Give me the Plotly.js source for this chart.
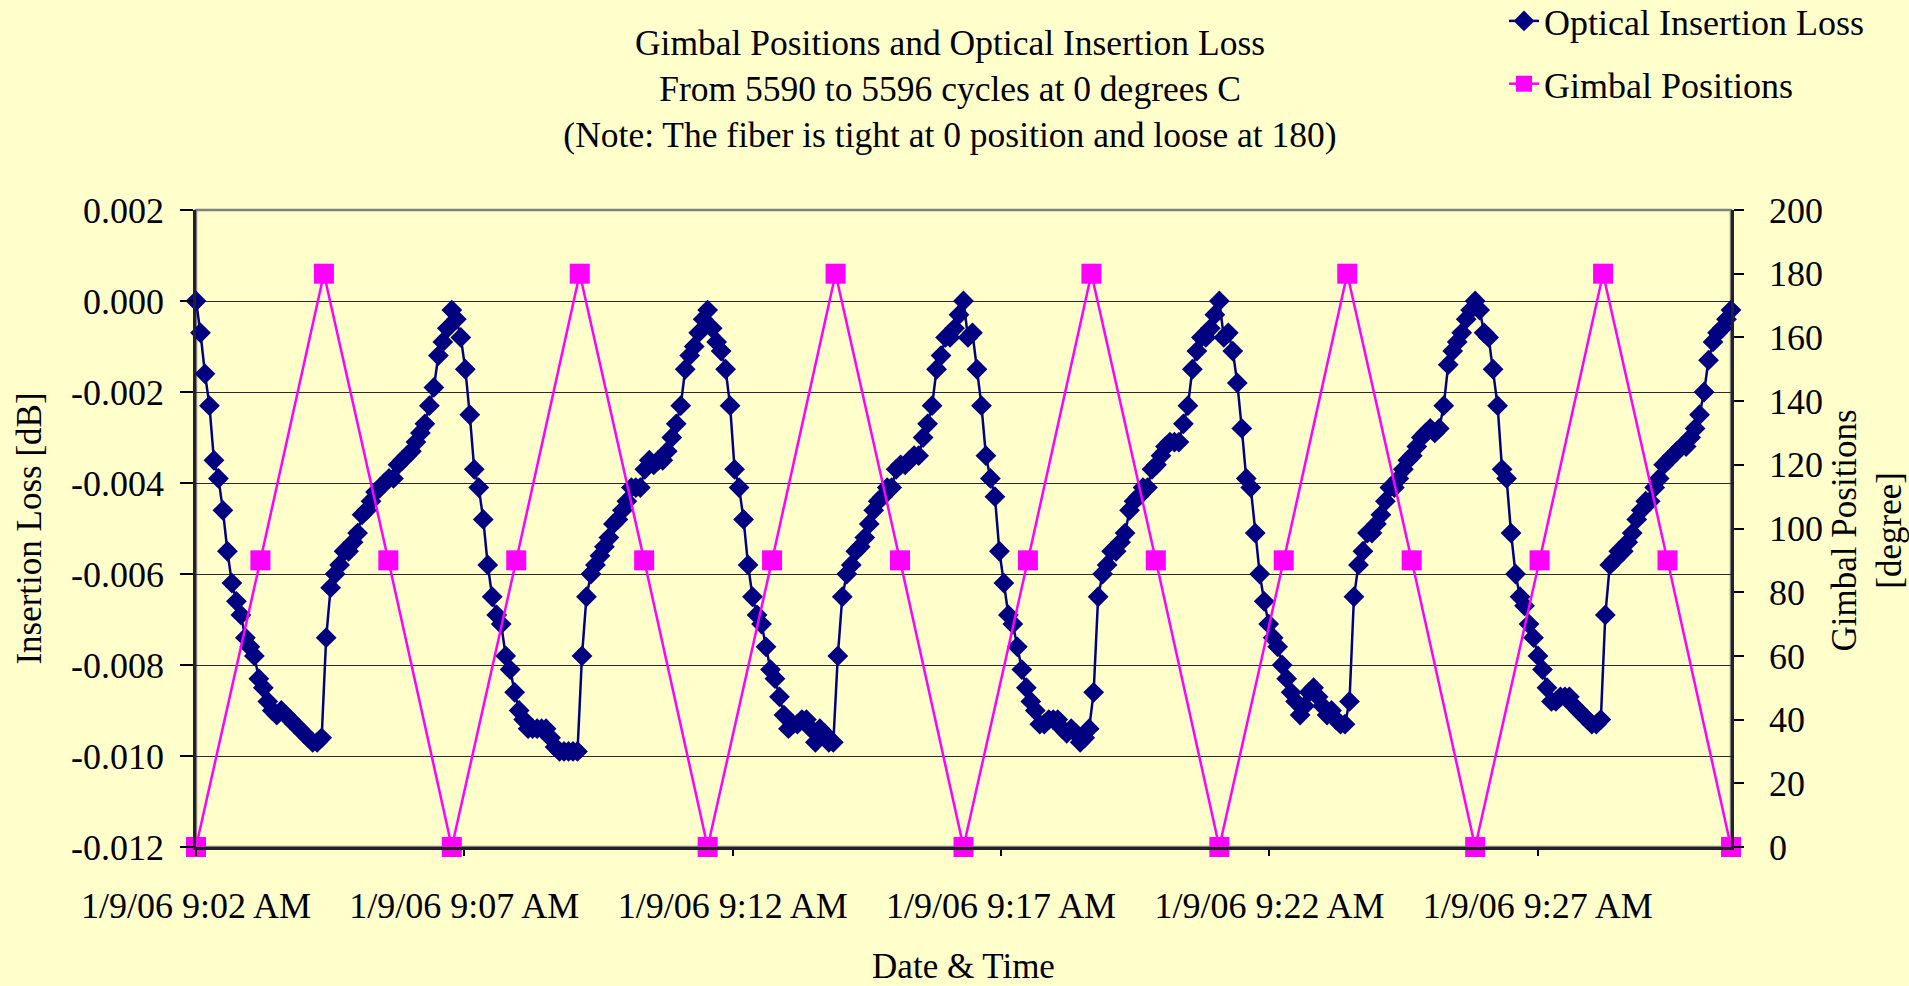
<!DOCTYPE html>
<html>
<head>
<meta charset="utf-8">
<script src="https://cdn.plot.ly/plotly-3.0.1.min.js"></script>
<style>
html, body { margin: 0; padding: 0; background: #FFFFCC; }
#chart { width: 1909px; height: 986px; }
</style>
</head>
<body>
<div id="chart"></div>
<script>
// ---------------- DATA ----------------
const titleLines = [
  'Gimbal Positions and Optical Insertion Loss',
  'From 5590 to 5596 cycles at 0 degrees C',
  '(Note: The fiber is tight at 0 position and loose at 180)'
];
const seriesNames = ['Optical Insertion Loss', 'Gimbal Positions'];
const rightAxisTitle = 'Gimbal Positions<br>[degree]';
const recordDate = '2006-01-09';
const startClock = '09:02:00';
const endClock = '09:30:36';

// Gimbal position commands (time of day, degrees)
const gimbalTimes = ['09:02:00','09:03:12','09:04:23','09:05:35','09:06:46','09:07:58','09:09:09',
  '09:10:21','09:11:32','09:12:44','09:13:55','09:15:07','09:16:18','09:17:30','09:18:41',
  '09:19:53','09:21:04','09:22:16','09:23:27','09:24:39','09:25:50','09:27:02','09:28:13',
  '09:29:25','09:30:36'];
const gimbalPositions = [0,90,180,90,0,90,180,90,0,90,180,90,0,90,180,90,0,90,180,90,0,90,180,90,0];

// Optical insertion loss [dB], logged every ~5 s from 09:02:00 (one array per gimbal cycle)
const ilSampleSeconds = 5.0175;
const ilCycle1 = [0.0000,-0.0007,-0.0016,-0.0023,-0.0035,-0.0039,-0.0046,-0.0055,-0.0062,-0.0066,
  -0.0069,-0.0074,-0.0076,-0.0078,-0.0083,-0.0085,-0.0088,-0.0090,-0.0091,-0.0090,-0.0091,-0.0092,
  -0.0093,-0.0094,-0.0095,-0.0096,-0.0097,-0.0097,-0.0096,
  -0.0074,-0.0063,-0.0060,-0.0058,-0.0055,-0.0055,-0.0053,-0.0051,-0.0047,-0.0046,-0.0044,-0.0042,
  -0.0041,-0.0040,-0.0039,-0.0039,-0.0036,-0.0035,-0.0034,-0.0033,-0.0031,-0.0029,-0.0027,-0.0023,
  -0.0019,-0.0012,-0.0009,-0.0006];
const ilCycle2 = [-0.0002,-0.0004,-0.0008,-0.0015,-0.0025,-0.0037,-0.0041,-0.0048,-0.0058,-0.0065,
  -0.0069,-0.0071,-0.0078,-0.0081,-0.0086,-0.0090,-0.0092,-0.0094,-0.0094,-0.0094,-0.0094,-0.0094,
  -0.0096,-0.0098,-0.0099,-0.0099,-0.0099,-0.0099,-0.0099,
  -0.0078,-0.0065,-0.0060,-0.0058,-0.0056,-0.0054,-0.0052,-0.0049,-0.0048,-0.0046,-0.0044,-0.0041,
  -0.0041,-0.0041,-0.0037,-0.0035,-0.0036,-0.0035,-0.0035,-0.0033,-0.0030,-0.0027,-0.0023,-0.0015,
  -0.0012,-0.0010,-0.0007,-0.0004];
const ilCycle3 = [-0.0002,-0.0006,-0.0009,-0.0011,-0.0015,-0.0023,-0.0037,-0.0041,-0.0048,-0.0058,
  -0.0065,-0.0069,-0.0071,-0.0076,-0.0081,-0.0083,-0.0087,-0.0091,-0.0094,-0.0093,-0.0093,-0.0092,
  -0.0092,-0.0094,-0.0097,-0.0094,-0.0095,-0.0097,-0.0097,
  -0.0078,-0.0065,-0.0060,-0.0058,-0.0055,-0.0054,-0.0052,-0.0049,-0.0046,-0.0044,-0.0043,-0.0041,
  -0.0041,-0.0037,-0.0036,-0.0036,-0.0035,-0.0034,-0.0034,-0.0030,-0.0027,-0.0023,-0.0015,-0.0012,
  -0.0008,-0.0008,-0.0006,-0.0003];
const ilCycle4 = [0.0000,-0.0008,-0.0007,-0.0015,-0.0023,-0.0034,-0.0039,-0.0043,-0.0055,-0.0062,
  -0.0069,-0.0071,-0.0076,-0.0081,-0.0085,-0.0088,-0.0090,-0.0093,-0.0093,-0.0092,-0.0092,-0.0092,
  -0.0094,-0.0095,-0.0094,-0.0095,-0.0097,-0.0096,-0.0094,
  -0.0086,-0.0065,-0.0060,-0.0058,-0.0055,-0.0055,-0.0053,-0.0051,-0.0046,-0.0044,-0.0043,-0.0041,
  -0.0041,-0.0037,-0.0036,-0.0034,-0.0032,-0.0031,-0.0031,-0.0031,-0.0027,-0.0023,-0.0015,-0.0011,
  -0.0008,-0.0008,-0.0006,-0.0003];
const ilCycle5 = [0.0000,-0.0008,-0.0007,-0.0011,-0.0018,-0.0028,-0.0039,-0.0041,-0.0051,-0.0060,
  -0.0066,-0.0071,-0.0074,-0.0076,-0.0080,-0.0083,-0.0086,-0.0088,-0.0091,-0.0089,-0.0086,-0.0085,
  -0.0087,-0.0089,-0.0091,-0.0090,-0.0092,-0.0093,-0.0093,
  -0.0088,-0.0065,-0.0058,-0.0055,-0.0051,-0.0051,-0.0049,-0.0047,-0.0044,-0.0041,-0.0041,-0.0039,
  -0.0037,-0.0035,-0.0034,-0.0032,-0.0030,-0.0029,-0.0028,-0.0029,-0.0028,-0.0023,-0.0014,-0.0011,
  -0.0009,-0.0007,-0.0004,-0.0002];
const ilCycle6 = [0.0000,-0.0002,-0.0007,-0.0008,-0.0015,-0.0023,-0.0037,-0.0039,-0.0051,-0.0060,
  -0.0065,-0.0067,-0.0071,-0.0074,-0.0078,-0.0081,-0.0085,-0.0088,-0.0088,-0.0087,-0.0087,-0.0087,
  -0.0089,-0.0090,-0.0091,-0.0092,-0.0093,-0.0093,-0.0092,
  -0.0069,-0.0058,-0.0057,-0.0055,-0.0055,-0.0053,-0.0051,-0.0048,-0.0046,-0.0044,-0.0044,-0.0041,
  -0.0039,-0.0036,-0.0035,-0.0034,-0.0033,-0.0032,-0.0032,-0.0030,-0.0028,-0.0025,-0.0020,-0.0013,
  -0.0009,-0.0007,-0.0006,-0.0004,-0.0002];

// Axis ticks
const xTickClocks = ['09:02','09:07','09:12','09:17','09:22','09:27'];
const xTickLabels = ['1/9/06 9:02 AM','1/9/06 9:07 AM','1/9/06 9:12 AM','1/9/06 9:17 AM','1/9/06 9:22 AM','1/9/06 9:27 AM'];
const ilTickValues = [0.002, 0.000, -0.002, -0.004, -0.006, -0.008, -0.010, -0.012];
const ilTickLabels = ['0.002','0.000','-0.002','-0.004','-0.006','-0.008','-0.010','-0.012'];
const gimbalTickValues = [0,20,40,60,80,100,120,140,160,180,200];

// ---------------- BUILD ----------------
const ilValues = [].concat(ilCycle1, ilCycle2, ilCycle3, ilCycle4, ilCycle5, ilCycle6);
const startMs = Date.parse(recordDate + 'T' + startClock + 'Z');
function stamp(ms) { return new Date(ms).toISOString().replace('T', ' ').replace('Z', ''); }
const ilTimes = ilValues.map((v, i) => stamp(startMs + i * ilSampleSeconds * 1000));
const gimbalStamps = gimbalTimes.map(t => recordDate + ' ' + t);

const FONT = '"Liberation Serif", "Times New Roman", Times, serif';
const NAVY = '#000080';
const MAGENTA = '#FF00FF';

const traces = [
  {
    type: 'scatter', mode: 'lines+markers', name: seriesNames[0],
    x: ilTimes, y: ilValues, yaxis: 'y', cliponaxis: false,
    legendgroup: 'a',
    line: { color: NAVY, width: 2.5 },
    marker: { symbol: 'diamond', size: 16, color: NAVY }
  },
  {
    type: 'scatter', mode: 'lines+markers', name: seriesNames[1],
    x: gimbalStamps, y: gimbalPositions, yaxis: 'y2', cliponaxis: false,
    legendgroup: 'b',
    line: { color: MAGENTA, width: 2.5 },
    marker: { symbol: 'square', size: 20, color: MAGENTA }
  }
];

const layout = {
  width: 1909, height: 986,
  paper_bgcolor: '#FFFFCC', plot_bgcolor: '#FFFFCC',
  margin: { l: 196, r: 178, t: 210, b: 139, pad: 0, autoexpand: false },
  font: { family: FONT, size: 36, color: '#000000' },
  title: {
    text: titleLines.join('<br>'),
    x: 950 / 1909, xref: 'container', xanchor: 'center',
    y: 1 - 55 / 986, yref: 'container', yanchor: 'top',
    font: { family: FONT, size: 35.5, color: '#000000' }
  },
  showlegend: true,
  legend: {
    x: (1504 - 196) / 1535, xref: 'paper', xanchor: 'left',
    y: 1 + 219 / 637, yref: 'paper', yanchor: 'top',
    bgcolor: 'rgba(0,0,0,0)', borderwidth: 0,
    font: { family: FONT, size: 36, color: '#000000' },
    traceorder: 'grouped', tracegroupgap: 13
  },
  xaxis: {
    type: 'date',
    range: [recordDate + ' ' + startClock, recordDate + ' ' + endClock],
    tickmode: 'array',
    tickvals: xTickClocks.map(t => recordDate + ' ' + t),
    ticktext: xTickLabels,
    tickangle: 0,
    ticks: 'outside', ticklen: 6, tickwidth: 1.5, tickcolor: '#000',
    ticklabelstandoff: 19,
    showgrid: false, zeroline: false,
    showline: true, linecolor: '#222', linewidth: 2.5,
    automargin: false,
    title: { text: 'Date & Time', standoff: 42, font: { family: FONT, size: 35 } }
  },
  yaxis: {
    range: [-0.012, 0.002],
    tickmode: 'array', tickvals: ilTickValues, ticktext: ilTickLabels,
    ticks: 'outside', ticklen: 13, tickwidth: 1.5, tickcolor: '#000',
    ticklabelstandoff: 9,
    showgrid: true, gridcolor: '#2a2a2a', gridwidth: 1,
    zeroline: false,
    showline: true, linecolor: '#222', linewidth: 2.5,
    automargin: false,
    title: { text: 'Insertion Loss [dB]', standoff: 19, font: { family: FONT, size: 35 } }
  },
  yaxis2: {
    overlaying: 'y', side: 'right', anchor: 'x',
    range: [0, 200],
    tickmode: 'array', tickvals: gimbalTickValues,
    ticks: 'outside', ticklen: 10, tickwidth: 1.5, tickcolor: '#000',
    ticklabelstandoff: 18,
    showgrid: false, zeroline: false,
    showline: true, linecolor: '#222', linewidth: 2.5,
    automargin: false
  },
  annotations: [
    { text: rightAxisTitle, textangle: -90, showarrow: false,
      xref: 'paper', x: (1867 - 196) / 1535, xanchor: 'center',
      yref: 'paper', y: 0.497, yanchor: 'middle',
      font: { family: FONT, size: 35, color: '#000000' } }
  ],
  shapes: [
    { type: 'rect', xref: 'paper', yref: 'paper', x0: 0, x1: 1, y0: 0, y1: 1,
      line: { color: '#808080', width: 2.5 }, layer: 'below' }
  ]
};

Plotly.newPlot('chart', traces, layout, { displayModeBar: false, responsive: false });
</script>
</body>
</html>
